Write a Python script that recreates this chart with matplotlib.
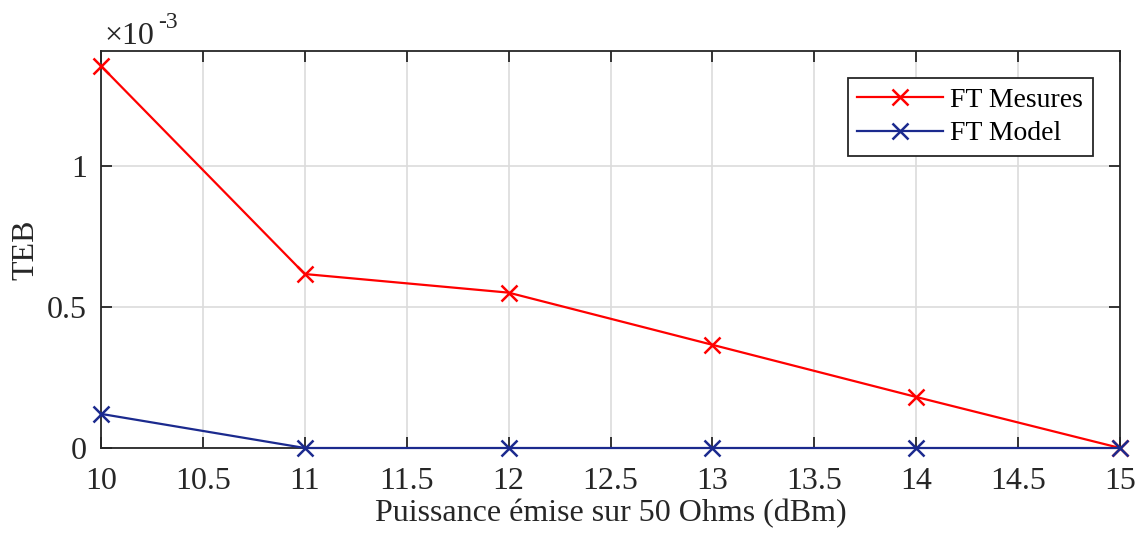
import numpy as np
import matplotlib.pyplot as plt
from matplotlib.ticker import FuncFormatter, MultipleLocator

plt.rcParams['font.family'] = ['Liberation Serif', 'DejaVu Serif']

# data
puissance = [10, 11, 12, 13, 14, 15]
teb_mesures = [1.355e-3, 0.617e-3, 0.551e-3, 0.366e-3, 0.181e-3, 0.0]
teb_model = [0.121e-3, 0.0, 0.0, 0.0, 0.0, 0.0]

red = '#ff0000'
blue = '#1b2a8e'
dark = '#262626'
fs = 23

fig = plt.figure(figsize=(11.4, 5.38), dpi=100)
ax = fig.add_axes([101/1140, (538-448)/538, (1120-101)/1140, (448-51)/538])

ax.plot(puissance, teb_mesures, color=red, lw=1.6, marker='x', ms=11, mew=1.8,
        label='FT Mesures', zorder=3, clip_on=False)
ax.plot(puissance, teb_model, color=blue, lw=1.6, marker='x', ms=11, mew=1.8,
        label='FT Model', zorder=3, clip_on=False)

ax.set_xlim(10, 15)
ax.set_ylim(0, 1.408e-3)
ax.xaxis.set_major_locator(MultipleLocator(0.5))
ax.yaxis.set_major_locator(MultipleLocator(0.5e-3))
ax.xaxis.set_major_formatter(FuncFormatter(lambda v, p: f"{v:g}"))
ax.yaxis.set_major_formatter(FuncFormatter(lambda v, p: f"{v*1e3:g}"))

ax.grid(True, color='#dcdcdc', lw=1.2)
ax.set_axisbelow(True)
for s in ax.spines.values():
    s.set_color(dark)
    s.set_linewidth(1.3)
ax.tick_params(direction='in', length=8, width=1.3, color=dark, labelsize=fs,
               labelcolor=dark, top=True, right=True)
ax.tick_params(axis='x', pad=14)
ax.tick_params(axis='y', pad=10)

ax.set_xlabel('Puissance émise sur 50 Ohms (dBm)', fontsize=fs, color=dark, labelpad=2)
ax.set_ylabel('TEB', fontsize=fs, color=dark, labelpad=5)

# exponent label, drawn like MATLAB's
fig.text(104/1140, 1 - 44/538, '×10', fontsize=fs, color=dark, ha='left', va='baseline')
fig.text(158/1140, 1 - 28/538, '-3', fontsize=17, color=dark, ha='left', va='baseline')

leg = ax.legend(loc='upper right', bbox_to_anchor=(1093/1140, (538-78)/538),
                bbox_transform=fig.transFigure, borderaxespad=0, fontsize=20,
                fancybox=False, edgecolor=dark, framealpha=1, handlelength=3.1,
                handletextpad=0.25, labelspacing=0.28, borderpad=0.35)
leg.get_frame().set_linewidth(1.3)
for t in leg.get_texts():
    t.set_color('black')

fig.savefig('out.png', dpi=100)
